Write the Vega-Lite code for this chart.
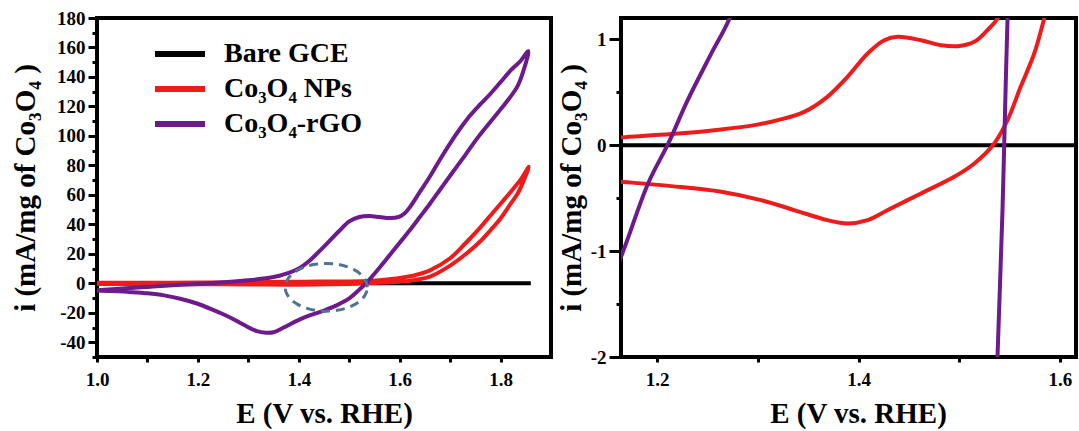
{
  "$schema": "https://vega.github.io/schema/vega-lite/v6.json",
  "padding": {"left": 9, "top": 7, "right": 2, "bottom": 2},
  "background": "white",
  "bounds": "flush",
  "spacing": 70,
  "config": {
    "view": {"stroke": "black", "strokeWidth": 4},
    "axis": {
      "labelFont": "Liberation Serif", "labelFontWeight": "bold", "labelFontSize": 19, "labelColor": "black",
      "titleFont": "Liberation Serif", "titleFontWeight": "bold", "titleFontSize": 29, "titleColor": "black",
      "grid": false, "domain": false, "tickColor": "black", "tickWidth": 3, "labelOverlap": false
    }
  },
  "datasets": {
    "left": [
      {"s": "Bare GCE", "n": 1, "E": 1.0, "I": 0},
      {"s": "Bare GCE", "n": 2, "E": 1.86, "I": 0},
      {"s": "Co₃O₄ NPs", "n": 1, "E": 1.0, "I": 0.3},
      {"s": "Co₃O₄ NPs", "n": 2, "E": 1.1, "I": 0.4},
      {"s": "Co₃O₄ NPs", "n": 3, "E": 1.2, "I": 0.5},
      {"s": "Co₃O₄ NPs", "n": 4, "E": 1.3, "I": 0.6},
      {"s": "Co₃O₄ NPs", "n": 5, "E": 1.38, "I": 1.0},
      {"s": "Co₃O₄ NPs", "n": 6, "E": 1.44, "I": 1.3},
      {"s": "Co₃O₄ NPs", "n": 7, "E": 1.5, "I": 1.2},
      {"s": "Co₃O₄ NPs", "n": 8, "E": 1.54, "I": 1.6},
      {"s": "Co₃O₄ NPs", "n": 9, "E": 1.57, "I": 2.4},
      {"s": "Co₃O₄ NPs", "n": 10, "E": 1.6, "I": 3.6},
      {"s": "Co₃O₄ NPs", "n": 11, "E": 1.63, "I": 5.5},
      {"s": "Co₃O₄ NPs", "n": 12, "E": 1.66, "I": 8.8},
      {"s": "Co₃O₄ NPs", "n": 13, "E": 1.7, "I": 17},
      {"s": "Co₃O₄ NPs", "n": 14, "E": 1.73, "I": 27},
      {"s": "Co₃O₄ NPs", "n": 15, "E": 1.76, "I": 38},
      {"s": "Co₃O₄ NPs", "n": 16, "E": 1.78, "I": 46},
      {"s": "Co₃O₄ NPs", "n": 17, "E": 1.8, "I": 54},
      {"s": "Co₃O₄ NPs", "n": 18, "E": 1.82, "I": 62},
      {"s": "Co₃O₄ NPs", "n": 19, "E": 1.84, "I": 70.5},
      {"s": "Co₃O₄ NPs", "n": 20, "E": 1.856, "I": 79},
      {"s": "Co₃O₄ NPs", "n": 21, "E": 1.845, "I": 69},
      {"s": "Co₃O₄ NPs", "n": 22, "E": 1.834, "I": 61},
      {"s": "Co₃O₄ NPs", "n": 23, "E": 1.82, "I": 54},
      {"s": "Co₃O₄ NPs", "n": 24, "E": 1.8, "I": 44},
      {"s": "Co₃O₄ NPs", "n": 25, "E": 1.78, "I": 36},
      {"s": "Co₃O₄ NPs", "n": 26, "E": 1.76, "I": 28.5},
      {"s": "Co₃O₄ NPs", "n": 27, "E": 1.73, "I": 19.5},
      {"s": "Co₃O₄ NPs", "n": 28, "E": 1.7, "I": 12},
      {"s": "Co₃O₄ NPs", "n": 29, "E": 1.66, "I": 4.5},
      {"s": "Co₃O₄ NPs", "n": 30, "E": 1.63, "I": 2.3},
      {"s": "Co₃O₄ NPs", "n": 31, "E": 1.6, "I": 1.1},
      {"s": "Co₃O₄ NPs", "n": 32, "E": 1.56, "I": 0.3},
      {"s": "Co₃O₄ NPs", "n": 33, "E": 1.5, "I": -0.4},
      {"s": "Co₃O₄ NPs", "n": 34, "E": 1.4, "I": -0.9},
      {"s": "Co₃O₄ NPs", "n": 35, "E": 1.3, "I": -0.8},
      {"s": "Co₃O₄ NPs", "n": 36, "E": 1.2, "I": -0.6},
      {"s": "Co₃O₄ NPs", "n": 37, "E": 1.1, "I": -0.5},
      {"s": "Co₃O₄ NPs", "n": 38, "E": 1.0, "I": -0.4},
      {"s": "Co₃O₄-rGO", "n": 1, "E": 1.0, "I": -4.8},
      {"s": "Co₃O₄-rGO", "n": 2, "E": 1.05, "I": -3.6},
      {"s": "Co₃O₄-rGO", "n": 3, "E": 1.1, "I": -2.5},
      {"s": "Co₃O₄-rGO", "n": 4, "E": 1.15, "I": -1.4},
      {"s": "Co₃O₄-rGO", "n": 5, "E": 1.2, "I": -0.4},
      {"s": "Co₃O₄-rGO", "n": 6, "E": 1.25, "I": 0.7},
      {"s": "Co₃O₄-rGO", "n": 7, "E": 1.3, "I": 2.0},
      {"s": "Co₃O₄-rGO", "n": 8, "E": 1.33, "I": 3.2},
      {"s": "Co₃O₄-rGO", "n": 9, "E": 1.36, "I": 5.0},
      {"s": "Co₃O₄-rGO", "n": 10, "E": 1.38, "I": 7.0},
      {"s": "Co₃O₄-rGO", "n": 11, "E": 1.4, "I": 10.0},
      {"s": "Co₃O₄-rGO", "n": 12, "E": 1.42, "I": 15.0},
      {"s": "Co₃O₄-rGO", "n": 13, "E": 1.44, "I": 21.5},
      {"s": "Co₃O₄-rGO", "n": 14, "E": 1.46, "I": 28.5},
      {"s": "Co₃O₄-rGO", "n": 15, "E": 1.48, "I": 35.5},
      {"s": "Co₃O₄-rGO", "n": 16, "E": 1.5, "I": 42.0},
      {"s": "Co₃O₄-rGO", "n": 17, "E": 1.52, "I": 45.0},
      {"s": "Co₃O₄-rGO", "n": 18, "E": 1.54, "I": 45.6},
      {"s": "Co₃O₄-rGO", "n": 19, "E": 1.56, "I": 45.0},
      {"s": "Co₃O₄-rGO", "n": 20, "E": 1.58, "I": 44.3},
      {"s": "Co₃O₄-rGO", "n": 21, "E": 1.6, "I": 45.3},
      {"s": "Co₃O₄-rGO", "n": 22, "E": 1.61, "I": 47.5},
      {"s": "Co₃O₄-rGO", "n": 23, "E": 1.62, "I": 51.5},
      {"s": "Co₃O₄-rGO", "n": 24, "E": 1.64, "I": 62},
      {"s": "Co₃O₄-rGO", "n": 25, "E": 1.66, "I": 72.5},
      {"s": "Co₃O₄-rGO", "n": 26, "E": 1.68, "I": 84},
      {"s": "Co₃O₄-rGO", "n": 27, "E": 1.7, "I": 95},
      {"s": "Co₃O₄-rGO", "n": 28, "E": 1.72, "I": 105},
      {"s": "Co₃O₄-rGO", "n": 29, "E": 1.74, "I": 114},
      {"s": "Co₃O₄-rGO", "n": 30, "E": 1.76, "I": 121.5},
      {"s": "Co₃O₄-rGO", "n": 31, "E": 1.78, "I": 128.6},
      {"s": "Co₃O₄-rGO", "n": 32, "E": 1.8, "I": 136.5},
      {"s": "Co₃O₄-rGO", "n": 33, "E": 1.82, "I": 144.4},
      {"s": "Co₃O₄-rGO", "n": 34, "E": 1.84, "I": 151},
      {"s": "Co₃O₄-rGO", "n": 35, "E": 1.855, "I": 157.5},
      {"s": "Co₃O₄-rGO", "n": 36, "E": 1.847, "I": 146},
      {"s": "Co₃O₄-rGO", "n": 37, "E": 1.834, "I": 134},
      {"s": "Co₃O₄-rGO", "n": 38, "E": 1.814, "I": 124},
      {"s": "Co₃O₄-rGO", "n": 39, "E": 1.793, "I": 115},
      {"s": "Co₃O₄-rGO", "n": 40, "E": 1.774, "I": 107},
      {"s": "Co₃O₄-rGO", "n": 41, "E": 1.754, "I": 98.5},
      {"s": "Co₃O₄-rGO", "n": 42, "E": 1.73, "I": 87},
      {"s": "Co₃O₄-rGO", "n": 43, "E": 1.7, "I": 73},
      {"s": "Co₃O₄-rGO", "n": 44, "E": 1.68, "I": 63.5},
      {"s": "Co₃O₄-rGO", "n": 45, "E": 1.66, "I": 54},
      {"s": "Co₃O₄-rGO", "n": 46, "E": 1.64, "I": 45},
      {"s": "Co₃O₄-rGO", "n": 47, "E": 1.62, "I": 36},
      {"s": "Co₃O₄-rGO", "n": 48, "E": 1.6, "I": 27.5},
      {"s": "Co₃O₄-rGO", "n": 49, "E": 1.58, "I": 19},
      {"s": "Co₃O₄-rGO", "n": 50, "E": 1.56, "I": 10.5},
      {"s": "Co₃O₄-rGO", "n": 51, "E": 1.545, "I": 4.5},
      {"s": "Co₃O₄-rGO", "n": 52, "E": 1.535, "I": 0.5},
      {"s": "Co₃O₄-rGO", "n": 53, "E": 1.52, "I": -4.3},
      {"s": "Co₃O₄-rGO", "n": 54, "E": 1.5, "I": -10.3},
      {"s": "Co₃O₄-rGO", "n": 55, "E": 1.475, "I": -15},
      {"s": "Co₃O₄-rGO", "n": 56, "E": 1.45, "I": -18.5},
      {"s": "Co₃O₄-rGO", "n": 57, "E": 1.42, "I": -22},
      {"s": "Co₃O₄-rGO", "n": 58, "E": 1.396, "I": -25.5},
      {"s": "Co₃O₄-rGO", "n": 59, "E": 1.37, "I": -30},
      {"s": "Co₃O₄-rGO", "n": 60, "E": 1.35, "I": -33.2},
      {"s": "Co₃O₄-rGO", "n": 61, "E": 1.335, "I": -33.5},
      {"s": "Co₃O₄-rGO", "n": 62, "E": 1.317, "I": -32.5},
      {"s": "Co₃O₄-rGO", "n": 63, "E": 1.29, "I": -28},
      {"s": "Co₃O₄-rGO", "n": 64, "E": 1.263, "I": -23},
      {"s": "Co₃O₄-rGO", "n": 65, "E": 1.23, "I": -18},
      {"s": "Co₃O₄-rGO", "n": 66, "E": 1.198, "I": -13.7},
      {"s": "Co₃O₄-rGO", "n": 67, "E": 1.165, "I": -10.5},
      {"s": "Co₃O₄-rGO", "n": 68, "E": 1.133, "I": -8.2},
      {"s": "Co₃O₄-rGO", "n": 69, "E": 1.1, "I": -6.8},
      {"s": "Co₃O₄-rGO", "n": 70, "E": 1.065, "I": -5.9},
      {"s": "Co₃O₄-rGO", "n": 71, "E": 1.03, "I": -5.2},
      {"s": "Co₃O₄-rGO", "n": 72, "E": 1.0, "I": -4.8}
    ],
    "oval": [
      {"n": 1, "E": 1.536, "I": -2.7},
      {"n": 2, "E": 1.5332, "I": 1.49},
      {"n": 3, "E": 1.5251, "I": 5.4},
      {"n": 4, "E": 1.5121, "I": 8.75},
      {"n": 5, "E": 1.4953, "I": 11.33},
      {"n": 6, "E": 1.4756, "I": 12.95},
      {"n": 7, "E": 1.4545, "I": 13.5},
      {"n": 8, "E": 1.4334, "I": 12.95},
      {"n": 9, "E": 1.4137, "I": 11.33},
      {"n": 10, "E": 1.3969, "I": 8.75},
      {"n": 11, "E": 1.3839, "I": 5.4},
      {"n": 12, "E": 1.3758, "I": 1.49},
      {"n": 13, "E": 1.373, "I": -2.7},
      {"n": 14, "E": 1.3758, "I": -6.89},
      {"n": 15, "E": 1.3839, "I": -10.8},
      {"n": 16, "E": 1.3969, "I": -14.15},
      {"n": 17, "E": 1.4137, "I": -16.73},
      {"n": 18, "E": 1.4334, "I": -18.35},
      {"n": 19, "E": 1.4545, "I": -18.9},
      {"n": 20, "E": 1.4756, "I": -18.35},
      {"n": 21, "E": 1.4953, "I": -16.73},
      {"n": 22, "E": 1.5121, "I": -14.15},
      {"n": 23, "E": 1.5251, "I": -10.8},
      {"n": 24, "E": 1.5332, "I": -6.89},
      {"n": 25, "E": 1.536, "I": -2.7}
    ],
    "right": [
      {"s": "Bare GCE", "n": 1, "E": 1.1, "I": 0},
      {"s": "Bare GCE", "n": 2, "E": 1.7, "I": 0},
      {"s": "Co₃O₄ NPs", "n": 1, "E": 1.15, "I": 0.06},
      {"s": "Co₃O₄ NPs", "n": 2, "E": 1.164, "I": 0.073},
      {"s": "Co₃O₄ NPs", "n": 3, "E": 1.214, "I": 0.104},
      {"s": "Co₃O₄ NPs", "n": 4, "E": 1.2635, "I": 0.148},
      {"s": "Co₃O₄ NPs", "n": 5, "E": 1.2966, "I": 0.189},
      {"s": "Co₃O₄ NPs", "n": 6, "E": 1.3198, "I": 0.236},
      {"s": "Co₃O₄ NPs", "n": 7, "E": 1.346, "I": 0.314},
      {"s": "Co₃O₄ NPs", "n": 8, "E": 1.369, "I": 0.456},
      {"s": "Co₃O₄ NPs", "n": 9, "E": 1.389, "I": 0.644},
      {"s": "Co₃O₄ NPs", "n": 10, "E": 1.409, "I": 0.865},
      {"s": "Co₃O₄ NPs", "n": 11, "E": 1.4256, "I": 0.99},
      {"s": "Co₃O₄ NPs", "n": 12, "E": 1.439, "I": 1.022},
      {"s": "Co₃O₄ NPs", "n": 13, "E": 1.462, "I": 0.99},
      {"s": "Co₃O₄ NPs", "n": 14, "E": 1.482, "I": 0.943},
      {"s": "Co₃O₄ NPs", "n": 15, "E": 1.4985, "I": 0.934},
      {"s": "Co₃O₄ NPs", "n": 16, "E": 1.515, "I": 0.975},
      {"s": "Co₃O₄ NPs", "n": 17, "E": 1.528, "I": 1.085},
      {"s": "Co₃O₄ NPs", "n": 18, "E": 1.538, "I": 1.195},
      {"s": "Co₃O₄ NPs", "n": 19, "E": 1.555, "I": 1.6},
      {"s": "Co₃O₄ NPs", "n": 20, "E": 1.595, "I": 1.6},
      {"s": "Co₃O₄ NPs", "n": 21, "E": 1.5844, "I": 1.195},
      {"s": "Co₃O₄ NPs", "n": 22, "E": 1.5745, "I": 0.865},
      {"s": "Co₃O₄ NPs", "n": 23, "E": 1.561, "I": 0.55},
      {"s": "Co₃O₄ NPs", "n": 24, "E": 1.548, "I": 0.236},
      {"s": "Co₃O₄ NPs", "n": 25, "E": 1.5348, "I": 0.016},
      {"s": "Co₃O₄ NPs", "n": 26, "E": 1.515, "I": -0.173},
      {"s": "Co₃O₄ NPs", "n": 27, "E": 1.495, "I": -0.299},
      {"s": "Co₃O₄ NPs", "n": 28, "E": 1.462, "I": -0.456},
      {"s": "Co₃O₄ NPs", "n": 29, "E": 1.429, "I": -0.613},
      {"s": "Co₃O₄ NPs", "n": 30, "E": 1.409, "I": -0.708},
      {"s": "Co₃O₄ NPs", "n": 31, "E": 1.389, "I": -0.739},
      {"s": "Co₃O₄ NPs", "n": 32, "E": 1.369, "I": -0.708},
      {"s": "Co₃O₄ NPs", "n": 33, "E": 1.336, "I": -0.613},
      {"s": "Co₃O₄ NPs", "n": 34, "E": 1.303, "I": -0.519},
      {"s": "Co₃O₄ NPs", "n": 35, "E": 1.2635, "I": -0.44},
      {"s": "Co₃O₄ NPs", "n": 36, "E": 1.214, "I": -0.387},
      {"s": "Co₃O₄ NPs", "n": 37, "E": 1.164, "I": -0.346},
      {"s": "Co₃O₄ NPs", "n": 38, "E": 1.15, "I": -0.335},
      {"s": "Co₃O₄-rGO", "n": 1, "E": 1.15, "I": -1.35},
      {"s": "Co₃O₄-rGO", "n": 2, "E": 1.164, "I": -1.054},
      {"s": "Co₃O₄-rGO", "n": 3, "E": 1.191, "I": -0.36},
      {"s": "Co₃O₄-rGO", "n": 4, "E": 1.211, "I": 0.016},
      {"s": "Co₃O₄-rGO", "n": 5, "E": 1.23, "I": 0.42},
      {"s": "Co₃O₄-rGO", "n": 6, "E": 1.254, "I": 0.87},
      {"s": "Co₃O₄-rGO", "n": 7, "E": 1.272, "I": 1.2},
      {"s": "Co₃O₄-rGO", "n": 8, "E": 1.3, "I": 2.0},
      {"s": "Co₃O₄-rGO", "n": 9, "E": 1.551, "I": 2.0},
      {"s": "Co₃O₄-rGO", "n": 10, "E": 1.548, "I": 1.2},
      {"s": "Co₃O₄-rGO", "n": 11, "E": 1.5447, "I": 0.016},
      {"s": "Co₃O₄-rGO", "n": 12, "E": 1.543, "I": -0.61},
      {"s": "Co₃O₄-rGO", "n": 13, "E": 1.538, "I": -2.0},
      {"s": "Co₃O₄-rGO", "n": 14, "E": 1.536, "I": -2.6}
    ]
  },
  "resolve": {"legend": {"color": "independent"}, "scale": {"x": "independent", "y": "independent"}},
  "hconcat": [
    {
      "width": 454,
      "height": 339,
      "encoding": {
        "x": {"field": "E", "type": "quantitative",
          "scale": {"domain": [1.0, 1.9], "nice": false, "zero": false},
          "axis": {"title": "E (V vs. RHE)", "values": [1.0, 1.1, 1.2, 1.3, 1.4, 1.5, 1.6, 1.7, 1.8],
            "labelExpr": "round(datum.value*10) % 2 === 0 ? format(datum.value, '.1f') : ''",
            "tickSize": 5, "labelPadding": 8, "titlePadding": 10, "labelFlush": false}},
        "y": {"field": "I", "type": "quantitative",
          "scale": {"domain": [-50, 180], "nice": false, "zero": false},
          "axis": {"title": "i (mA/mg of Co₃O₄ )",
            "values": [-50, -40, -30, -20, -10, 0, 10, 20, 30, 40, 50, 60, 70, 80, 90, 100, 110, 120, 130, 140, 150, 160, 170, 180],
            "labelExpr": "datum.value % 20 === 0 ? '' + datum.value : ''",
            "tickSize": {"condition": {"test": "datum.value % 20 === 0", "value": 9}, "value": 5},
            "labelPadding": 3, "titlePadding": 16, "labelFlush": false}},
        "order": {"field": "n", "type": "quantitative"}
      },
      "layer": [
        {
          "data": {"name": "left"},
          "mark": {"type": "line", "strokeWidth": 4, "interpolate": "catmull-rom", "clip": true},
          "encoding": {
            "color": {"field": "s", "type": "nominal",
              "scale": {"domain": ["Bare GCE", "Co₃O₄ NPs", "Co₃O₄-rGO"], "range": ["#000000", "#ee1b1b", "#6c1a8c"]},
              "legend": {"orient": "none", "legendX": 69, "legendY": 22, "title": null, "padding": 0,
                "symbolType": "M-2.5,0H2.5", "symbolSize": 400, "symbolStrokeWidth": 6,
                "labelFont": "Liberation Serif", "labelFontWeight": "bold", "labelFontSize": 28, "labelColor": "black",
                "labelOffset": 30, "rowPadding": 7}}
          }
        },
        {
          "data": {"name": "oval"},
          "mark": {"type": "line", "strokeWidth": 3, "strokeDash": [9, 6], "color": "#4f7394", "interpolate": "catmull-rom"}
        }
      ]
    },
    {
      "width": 455,
      "height": 339,
      "data": {"name": "right"},
      "mark": {"type": "line", "strokeWidth": 4, "interpolate": "catmull-rom", "clip": true},
      "encoding": {
        "x": {"field": "E", "type": "quantitative",
          "scale": {"domain": [1.164, 1.616], "nice": false, "zero": false},
          "axis": {"title": "E (V vs. RHE)", "values": [1.2, 1.3, 1.4, 1.5, 1.6],
            "labelExpr": "round(datum.value*10) % 2 === 0 ? format(datum.value, '.1f') : ''",
            "tickSize": 5, "labelPadding": 8, "titlePadding": 10, "labelFlush": false, "titleX": 237}},
        "y": {"field": "I", "type": "quantitative",
          "scale": {"domain": [-2, 1.2], "nice": false, "zero": false},
          "axis": {"title": "i (mA/mg of Co₃O₄ )", "values": [-2, -1.5, -1, -0.5, 0, 0.5, 1],
            "labelExpr": "datum.value % 1 === 0 ? '' + datum.value : ''",
            "tickSize": {"condition": {"test": "datum.value % 1 === 0", "value": 12}, "value": 5},
            "labelPadding": 3, "titlePadding": 4, "labelFlush": false}},
        "color": {"field": "s", "type": "nominal",
          "scale": {"domain": ["Bare GCE", "Co₃O₄ NPs", "Co₃O₄-rGO"], "range": ["#000000", "#ee1b1b", "#6c1a8c"]},
          "legend": null},
        "order": {"field": "n", "type": "quantitative"}
      }
    }
  ]
}
